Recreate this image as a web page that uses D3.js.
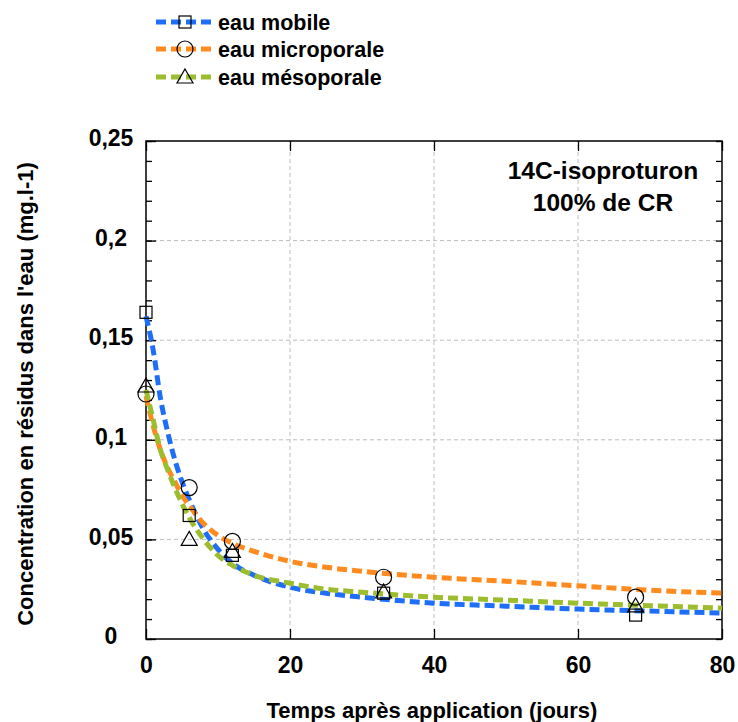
<!DOCTYPE html>
<html>
<head>
<meta charset="utf-8">
<script src="https://cdn.jsdelivr.net/npm/d3@7"></script>
<style>
  body { margin: 0; background: #fff; }
  svg { display: block; font-family: "Liberation Sans", Arial, sans-serif; font-weight: bold; }
</style>
</head>
<body>
<div id="chart"></div>
<script>
// measured points (days, concentration)
const days = [0, 6, 12, 33, 68]
const mobilePts = [0.164, 0.062, 0.042, 0.023, 0.012]
const microPts = [0.123, 0.076, 0.049, 0.031, 0.021]
const mesoPts = [0.127, 0.050, 0.044, 0.0236, 0.0166]

// model curves
const curveDays = [0, 1, 2, 3, 4, 5, 6, 8, 10, 12, 15, 20, 25, 30, 40, 50, 60, 70, 80]
const mobileFit = [0.162, 0.145, 0.121, 0.104, 0.090, 0.079, 0.070, 0.055, 0.045, 0.038, 0.032, 0.026, 0.023, 0.021, 0.018, 0.0165, 0.015, 0.014, 0.013]
const microFit = [0.122, 0.107, 0.095, 0.086, 0.079, 0.072, 0.067, 0.058, 0.052, 0.048, 0.044, 0.039, 0.036, 0.034, 0.031, 0.029, 0.0267, 0.0245, 0.023]
const mesoFit = [0.125, 0.110, 0.095, 0.085, 0.076, 0.068, 0.061, 0.050, 0.042, 0.037, 0.032, 0.028, 0.025, 0.0235, 0.021, 0.0195, 0.018, 0.0167, 0.0155]

const xTicks = [0, 20, 40, 60, 80]
const yTicks = [0, 0.05, 0.1, 0.15, 0.2, 0.25]
const yMinor = d3.range(0, 0.2501, 0.01)

const seriesNames = ['eau mobile', 'eau microporale', 'eau mésoporale']
const colors = ['#1f6ef8', '#ff8b1f', '#9cbd2e']
const shapes = ['square', 'circle', 'triangle']

const W = 738, H = 722
const m = { left: 146, right: 16, top: 141, bottom: 83 }

const svg = d3.select('#chart').append('svg').attr('width', W).attr('height', H)

const x = d3.scaleLinear().domain([0, 80]).range([m.left, W - m.right])
const y = d3.scaleLinear().domain([0, 0.25]).range([H - m.bottom, m.top])

const fmt = d => String(+d.toFixed(2)).replace('.', ',')

// grid
svg.append('g').selectAll('line').data(xTicks.slice(1, -1)).join('line')
  .attr('x1', d => x(d)).attr('x2', d => x(d)).attr('y1', y(0)).attr('y2', y(0.25))
  .attr('stroke', '#bdbdbd').attr('stroke-dasharray', '4,3')
svg.append('g').selectAll('line').data(yTicks.slice(1, -1)).join('line')
  .attr('y1', d => y(d)).attr('y2', d => y(d)).attr('x1', x(0)).attr('x2', x(80))
  .attr('stroke', '#bdbdbd').attr('stroke-dasharray', '4,3')

// inward ticks
const tickAxis = (axis, tr) => svg.append('g').attr('transform', tr).call(axis)
  .call(g => g.selectAll('text').remove()).call(g => g.select('.domain').remove())
  .call(g => g.selectAll('line').attr('stroke', '#000').attr('stroke-width', 1.3))
tickAxis(d3.axisLeft(y).tickValues(yMinor).tickSize(-6), `translate(${x(0)},0)`)
tickAxis(d3.axisLeft(y).tickValues(yTicks).tickSize(-10), `translate(${x(0)},0)`)
tickAxis(d3.axisRight(y).tickValues(yMinor).tickSize(-6), `translate(${x(80)},0)`)
tickAxis(d3.axisBottom(x).tickValues(xTicks).tickSize(-10), `translate(0,${y(0)})`)
tickAxis(d3.axisTop(x).tickValues(xTicks).tickSize(-10), `translate(0,${y(0.25)})`)

// frame
svg.append('rect').attr('x', x(0)).attr('y', y(0.25))
  .attr('width', x(80) - x(0)).attr('height', y(0) - y(0.25))
  .attr('fill', 'none').attr('stroke', '#000').attr('stroke-width', 1.5)

// tick labels
svg.append('g').attr('transform', `translate(${x(0)},0)`)
  .call(d3.axisLeft(y).tickValues(yTicks).tickFormat(fmt).tickSize(0))
  .call(g => g.select('.domain').remove())
  .selectAll('text').attr('x', -35).attr('dy', '0.2em').attr('text-anchor', 'middle')
  .attr('font-size', 23).attr('font-family', 'Liberation Sans, Arial').attr('font-weight', 'bold').attr('fill', '#000')
svg.append('g').attr('transform', `translate(0,${y(0)})`)
  .call(d3.axisBottom(x).tickValues(xTicks).tickFormat(d3.format('d')).tickSize(0).tickPadding(18))
  .call(g => g.select('.domain').remove())
  .selectAll('text').attr('font-size', 23).attr('font-family', 'Liberation Sans, Arial').attr('font-weight', 'bold').attr('fill', '#000')

// axis titles
svg.append('text').attr('x', 432).attr('y', 718).attr('text-anchor', 'middle')
  .attr('font-size', 22).text('Temps après application (jours)')
svg.append('text').attr('transform', `translate(33,${(y(0) + y(0.25)) / 2 + 4}) rotate(-90)`)
  .attr('text-anchor', 'middle').attr('font-size', 22)
  .text("Concentration en résidus dans l'eau (mg.l-1)")

// annotation
svg.append('text').attr('x', 603).attr('y', 179).attr('text-anchor', 'middle').attr('font-size', 24.5).text('14C-isoproturon')
svg.append('text').attr('x', 603).attr('y', 211).attr('text-anchor', 'middle').attr('font-size', 24.5).text('100% de CR')

// curves
const line = d3.line().x(d => x(d[0])).y(d => y(d[1])).curve(d3.curveMonotoneX)
const fits = [mobileFit, microFit, mesoFit]
const pts = [mobilePts, microPts, mesoPts]
const plot = svg.append('g')
fits.forEach((f, i) => {
  plot.append('path').datum(curveDays.map((d, j) => [d, f[j]]))
    .attr('d', line).attr('fill', 'none').attr('stroke', colors[i])
    .attr('stroke-width', 5).attr('stroke-dasharray', '10,5')
})

function marker (g, shape, cx, cy) {
  if (shape === 'square') {
    g.append('rect').attr('x', cx - 6).attr('y', cy - 6).attr('width', 12).attr('height', 12)
      .attr('fill', 'none').attr('stroke', '#000').attr('stroke-width', 1.2)
  } else if (shape === 'circle') {
    g.append('circle').attr('cx', cx).attr('cy', cy).attr('r', 8)
      .attr('fill', 'none').attr('stroke', '#000').attr('stroke-width', 1.2)
  } else {
    g.append('path').attr('d', `M${cx},${cy - 8}L${cx + 8},${cy + 6}L${cx - 8},${cy + 6}Z`)
      .attr('fill', 'none').attr('stroke', '#000').attr('stroke-width', 1.2)
  }
}

pts.forEach((p, i) => {
  days.forEach((d, j) => marker(plot, shapes[i], x(d), y(p[j])))
})

// legend
const legendY = [22, 49, 77]
const lg = svg.append('g')
seriesNames.forEach((name, i) => {
  lg.append('line').attr('x1', 156).attr('x2', 214).attr('y1', legendY[i]).attr('y2', legendY[i])
    .attr('stroke', colors[i]).attr('stroke-width', 5).attr('stroke-dasharray', '10,5')
  marker(lg, shapes[i], 185, legendY[i])
  lg.append('text').attr('x', 218).attr('y', legendY[i] + 7.5).attr('font-size', 21.5).text(name)
})
</script>
</body>
</html>
